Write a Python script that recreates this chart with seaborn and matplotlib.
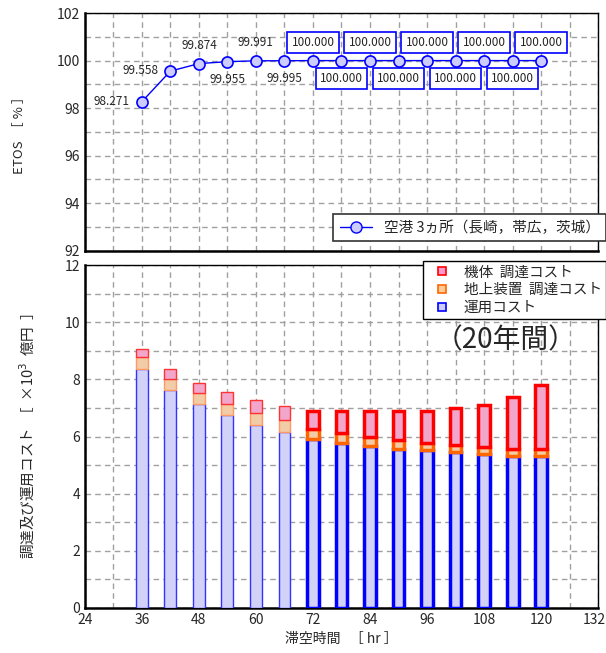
import numpy as np
import pandas as pd
import seaborn as sns
import matplotlib.pyplot as plt
import matplotlib.transforms as mtransforms
from matplotlib.lines import Line2D
from matplotlib.ticker import MultipleLocator

# data
hours = [36, 42, 48, 54, 60, 66, 72, 78, 84, 90, 96, 102, 108, 114, 120]
etos = [98.271, 99.558, 99.874, 99.955, 99.991, 99.995,
        100.000, 100.000, 100.000, 100.000, 100.000, 100.000, 100.000, 100.000, 100.000]
ops_cost = [8.35, 7.62, 7.13, 6.77, 6.41, 6.15, 5.92, 5.78, 5.66, 5.57, 5.52, 5.45, 5.40, 5.33, 5.33]
ground_cost = [0.44, 0.40, 0.38, 0.36, 0.41, 0.42, 0.35, 0.35, 0.33, 0.32, 0.26, 0.26, 0.24, 0.24, 0.24]
airframe_cost = [0.29, 0.34, 0.37, 0.43, 0.45, 0.49, 0.62, 0.76, 0.90, 1.00, 1.11, 1.29, 1.48, 1.82, 2.23]
x_ticks = [24, 36, 48, 60, 72, 84, 96, 108, 120, 132]
series_names = ["機体  調達コスト", "地上装置  調達コスト", "運用コスト"]
line_name = "空港 3ヵ所（長崎，帯広，茨城）"

sns.set_style("white")
plt.rcParams['font.family'] = ['Noto Sans CJK JP', 'DejaVu Sans']
plt.rcParams['axes.unicode_minus'] = False

fig = plt.figure(figsize=(6.06, 6.53), dpi=100)
ax1 = fig.add_axes([0.140, 0.616, 0.847, 0.364])
ax2 = fig.add_axes([0.140, 0.069, 0.847, 0.525])

df = pd.DataFrame({"hr": hours, "etos": etos, "ops": ops_cost,
                   "ground": ground_cost, "air": airframe_cost})
df["ops_ground"] = df["ops"] + df["ground"]

# ---- top panel: ETOS ----
sns.lineplot(data=df, x="hr", y="etos", ax=ax1, color="blue", lw=1,
             marker="o", markersize=8, markerfacecolor="#ccccff",
             markeredgecolor="blue", markeredgewidth=1.2, zorder=3)

offsets = [(-30, 0), (-30, 1), (0, 18), (0, -18), (0, 18), (0, -18)]
for i in range(6):
    ax1.annotate(f"{etos[i]:.3f}", (hours[i], etos[i]), xytext=offsets[i],
                 textcoords="offset pixels", ha="center", va="center", fontsize=8.5)
for i in range(6, len(hours)):
    dy = 18 if (i % 2 == 0) else -18
    ax1.annotate(f"{etos[i]:.3f}", (hours[i], etos[i]), xytext=(0, dy),
                 textcoords="offset pixels", ha="center", va="center", fontsize=8.5,
                 bbox=dict(boxstyle="square,pad=0.35", fc="white", ec="blue", lw=1.2))

ax1.set_xlim(24, 132)
ax1.set_ylim(92, 102)
ax1.set_xticks(x_ticks, labels=[])
ax1.xaxis.set_minor_locator(MultipleLocator(6))
ax1.yaxis.set_major_locator(MultipleLocator(2))
ax1.yaxis.set_minor_locator(MultipleLocator(1))
ax1.set_xlabel("")
ax1.set_ylabel("ETOS  ［ % ］", fontsize=9.5, labelpad=22)
h1 = [Line2D([], [], color="blue", lw=1, marker="o", markersize=8,
             markerfacecolor="#ccccff", markeredgecolor="blue")]
leg1 = ax1.legend(h1, [line_name], loc="lower right", bbox_to_anchor=(1.016, 0.04),
                  fontsize=10.5, fancybox=False, framealpha=1, edgecolor="#333333",
                  borderaxespad=0, borderpad=0.45, handlelength=2.2)
leg1.get_frame().set_linewidth(1.2)

# ---- bottom panel: costs (stacked) ----
early = df[df["hr"] <= 66]
late = df[df["hr"] >= 72]
bw = 2.5 / 6
for part, lw, ec in [(early, 1.0, ["#3333ff", "#ff9966", "#ff3333"]),
                     (late, 2.5, ["#0000ff", "#ff6600", "#ff0000"])]:
    sns.barplot(data=part, x="hr", y="ops", native_scale=True, width=bw, errorbar=None,
                color="#ccccff", edgecolor=ec[0], linewidth=lw, ax=ax2, zorder=3)
    sns.barplot(data=part, x="hr", y="ground", native_scale=True, width=bw, errorbar=None,
                bottom=part["ops"].values, color="#ffcc99", edgecolor=ec[1],
                linewidth=lw, ax=ax2, zorder=3)
    sns.barplot(data=part, x="hr", y="air", native_scale=True, width=bw, errorbar=None,
                bottom=part["ops_ground"].values, color="#ff99cc", edgecolor=ec[2],
                linewidth=lw, ax=ax2, zorder=3)

ax2.set_xlim(24, 132)
ax2.set_ylim(0, 12)
ax2.set_xticks(x_ticks, labels=[str(t) for t in x_ticks])
ax2.xaxis.set_minor_locator(MultipleLocator(6))
ax2.yaxis.set_major_locator(MultipleLocator(2))
ax2.yaxis.set_minor_locator(MultipleLocator(1))
ax2.set_xlabel("滞空時間   ［ hr ］", fontsize=10, labelpad=4)
ax2.set_ylabel("調達及び運用コスト  ［  ×10$^3$  億円  ］", fontsize=10.5, labelpad=20)
ax2.text(0.82, 0.78, "（20年間）", transform=ax2.transAxes, ha="center", va="center",
         fontsize=20)
h2 = [Line2D([], [], ls="", marker="s", markersize=6, markerfacecolor=fc,
             markeredgecolor=e, markeredgewidth=1.2)
      for fc, e in [("#ff99cc", "#ff0000"), ("#ffcc99", "#ff6600"), ("#ccccff", "#0000ff")]]
leg2 = ax2.legend(h2, series_names, loc="upper right", bbox_to_anchor=(1.016, 1.012),
                  fontsize=10.5, fancybox=False, framealpha=1, edgecolor="black",
                  borderaxespad=0, labelspacing=0.25, handletextpad=0.5, borderpad=0.3)
leg2.set_zorder(5)

for ax in (ax1, ax2):
    ax.grid(which="both", ls=(0, (4, 3)), color="#a0a0a0", lw=1, zorder=0)
    ax.set_axisbelow(True)
    ax.tick_params(which="both", direction="in", length=4, labelsize=10, color="black")
    ax.tick_params(which="minor", length=0)
    for s in ax.spines.values():
        s.set_color("black")
        s.set_linewidth(1)
    ax.spines["left"].set_linewidth(1.8)
    ax.spines["bottom"].set_linewidth(1.8)

# nudge the last x tick label so it stays inside the figure
last = ax2.get_xticklabels()[-1]
last.set_transform(last.get_transform() +
                   mtransforms.ScaledTranslation(-4 / 100, 0, fig.dpi_scale_trans))

fig.savefig("out.png", dpi=100)
